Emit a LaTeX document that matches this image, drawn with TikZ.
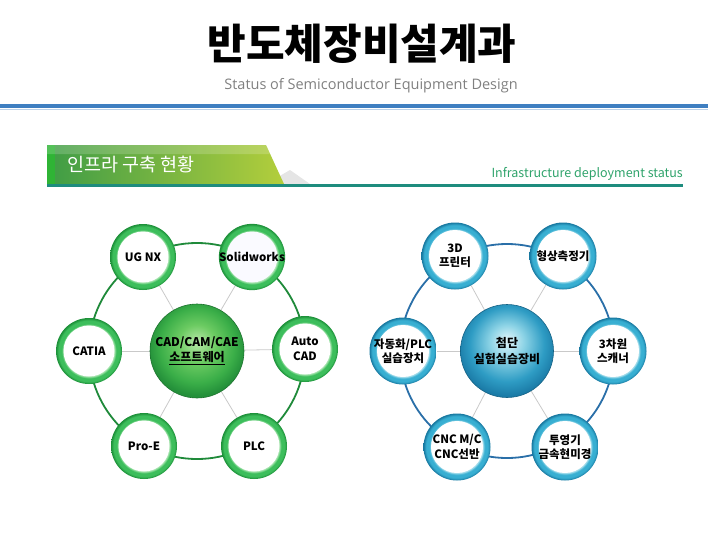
\documentclass[tikz,border=0pt]{standalone}
\usepackage{fontspec}
\setmainfont{Noto Sans CJK KR}
\newfontfamily\subfont{Open Sans}
\usetikzlibrary{backgrounds}
\definecolor{titleblue}{HTML}{3F7FC1}
\definecolor{tealline}{HTML}{1E8C7E}
\definecolor{infragreen}{HTML}{2FA36B}
\definecolor{gr0}{HTML}{A6E4AE}
\definecolor{gr1}{HTML}{3DBE5C}
\definecolor{gr2}{HTML}{1B8E37}
\definecolor{br0}{HTML}{B0E2EE}
\definecolor{br1}{HTML}{38AFD2}
\definecolor{br2}{HTML}{17779F}
\definecolor{bigG}{HTML}{1F8A3A}
\definecolor{bigB}{HTML}{2A6FA8}
\definecolor{spoke}{HTML}{C9C9C9}
\definecolor{bannerL}{HTML}{3E9C46}
\definecolor{bannerR}{HTML}{B3CE3C}
\definecolor{gc0}{HTML}{B8E8A8}
\definecolor{gc1}{HTML}{6CCB62}
\definecolor{gc2}{HTML}{3AAE48}
\definecolor{gc3}{HTML}{24903A}
\definecolor{bc0}{HTML}{E4F6FA}
\definecolor{bc1}{HTML}{8ED4E6}
\definecolor{bc2}{HTML}{2E9CC4}
\definecolor{bc3}{HTML}{1A7AA6}
\pgfdeclareradialshading{greenball}{\pgfpoint{0bp}{5bp}}{color(0bp)=(gc0); color(10bp)=(gc1); color(20bp)=(gc2); color(26bp)=(gc3); color(50bp)=(gc3)}
\pgfdeclareradialshading{blueball}{\pgfpoint{0bp}{6bp}}{color(0bp)=(bc0); color(9bp)=(bc1); color(20bp)=(bc2); color(27bp)=(bc3); color(50bp)=(bc3)}
\pgfdeclareradialshading{greenring}{\pgfpoint{0bp}{0bp}}{color(0bp)=(gr0); color(19.3bp)=(gr0); color(20.6bp)=(gr1); color(23bp)=(gr1); color(25bp)=(gr2); color(50bp)=(gr2)}
\pgfdeclareradialshading{bluering}{\pgfpoint{0bp}{0bp}}{color(0bp)=(br0); color(19.3bp)=(br0); color(20.6bp)=(br1); color(23bp)=(br1); color(25bp)=(br2); color(50bp)=(br2)}
\tikzset{
  titletext/.style={font=\fontsize{42}{46}\selectfont\bfseries, text=black, inner sep=0},
  subtext/.style={font=\subfont\fontsize{14.5}{16}\selectfont, text=black!50, inner sep=0},
  gnode/.style={circle, minimum size=66pt, inner sep=0, shading=greenring,
    align=center, font=\fontsize{11.5}{14.5}\selectfont\bfseries,
    path picture={\fill[#1] (path picture bounding box.center) circle (25.5pt);}},
  gnode/.default=white,
  bnode/.style={circle, minimum size=67pt, inner sep=0, shading=bluering,
    align=center, font=\fontsize{11.5}{14.5}\selectfont\bfseries,
    path picture={\fill[white] (path picture bounding box.center) circle (26pt);}},
  gcenter/.style={circle, minimum size=94pt, inner sep=0, shading=greenball, draw=gc3!80!black, line width=0.6pt,
    align=center, font=\fontsize{12}{16}\selectfont\bfseries},
  bcenter/.style={circle, minimum size=93pt, inner sep=0, shading=blueball, draw=bc3!80!black, line width=0.6pt,
    align=center, font=\fontsize{12}{16}\selectfont\bfseries},
  spokeline/.style={draw=spoke, line width=0.8pt},
}
\begin{document}
\begin{tikzpicture}[x=1pt,y=-1pt]
\useasboundingbox (0,0) rectangle (708,535);
% header
\node[titletext] (title) at (362,44) {반도체장비설계과};
\node[subtext] (sub) at (371,86) {Status of Semiconductor Equipment Design};
\coordinate (bl1) at (0,106); \coordinate (bl2) at (708,106);
\draw[titleblue, line width=4.5pt] (bl1) -- (bl2);
\draw[titleblue!35, line width=1pt] (0,109.5) -- (708,109.5);
% banner
\fill[black!10] (266,184) -- (310,184) -- (290,170) -- cycle;
\shade[left color=bannerL, right color=bannerR] (47,145) -- (266,145) -- (284,184) -- (47,184) -- cycle;
\fill[green!30!bannerL, opacity=0.8] (47,145) rectangle (55,184);
\fill[white, opacity=0.18] (47,145) -- (266,145) -- (270,154) -- (47,154) -- cycle;
\node[text=white, font=\fontsize{18.5}{20}\selectfont, anchor=west, inner sep=0] (banner) at (67,165) {인프라 구축 현황};
\coordinate (tl1) at (47,185.5); \coordinate (tl2) at (683,185.5);
\draw[tealline, line width=2.6pt] (tl1) -- (tl2);
\node[text=infragreen, font=\fontsize{12.5}{14}\selectfont, anchor=base east, inner sep=0] (infra) at (683,177) {Infrastructure deployment status};
% left cluster
\node[gcenter] (cad) at (197,351) {CAD/CAM/CAE\\[-1pt]\underline{소프트웨어}};
\node[gnode] (ugnx) at (143,257) {UG NX};
\node[gnode={black!4!blue!2!white}] (solid) at (252,257) {Solidworks};
\node[gnode] (autocad) at (305,349) {Auto\\CAD};
\node[gnode] (catia) at (89,351) {CATIA};
\node[gnode] (proe) at (144,446) {Pro-E};
\node[gnode] (plc) at (254,446) {PLC};
% right cluster
\node[bcenter] (adv) at (507,351) {첨단\\실험실습장비};
\node[bnode] (printer) at (455,256) {3D\\프린터};
\node[bnode] (shape) at (563,256) {형상측정기};
\node[bnode] (scan) at (613,351) {3차원\\스캐너};
\node[bnode] (auto) at (403,351) {자동화/PLC\\실습장치};
\node[bnode] (cnc) at (457,447) {CNC M/C\\CNC선반};
\node[bnode] (proj) at (565,447) {투영기\\금속현미경};
\begin{scope}[on background layer]
  \draw[bigG, line width=1.8pt] (cad) circle (108pt);
  \foreach \n in {ugnx,solid,autocad,catia,proe,plc} \draw[spokeline] (cad) -- (\n);
  \draw[bigB, line width=1.8pt] (adv) circle (107pt);
  \foreach \n in {printer,shape,scan,auto,cnc,proj} \draw[spokeline] (adv) -- (\n);
\end{scope}
\end{tikzpicture}
\end{document}
